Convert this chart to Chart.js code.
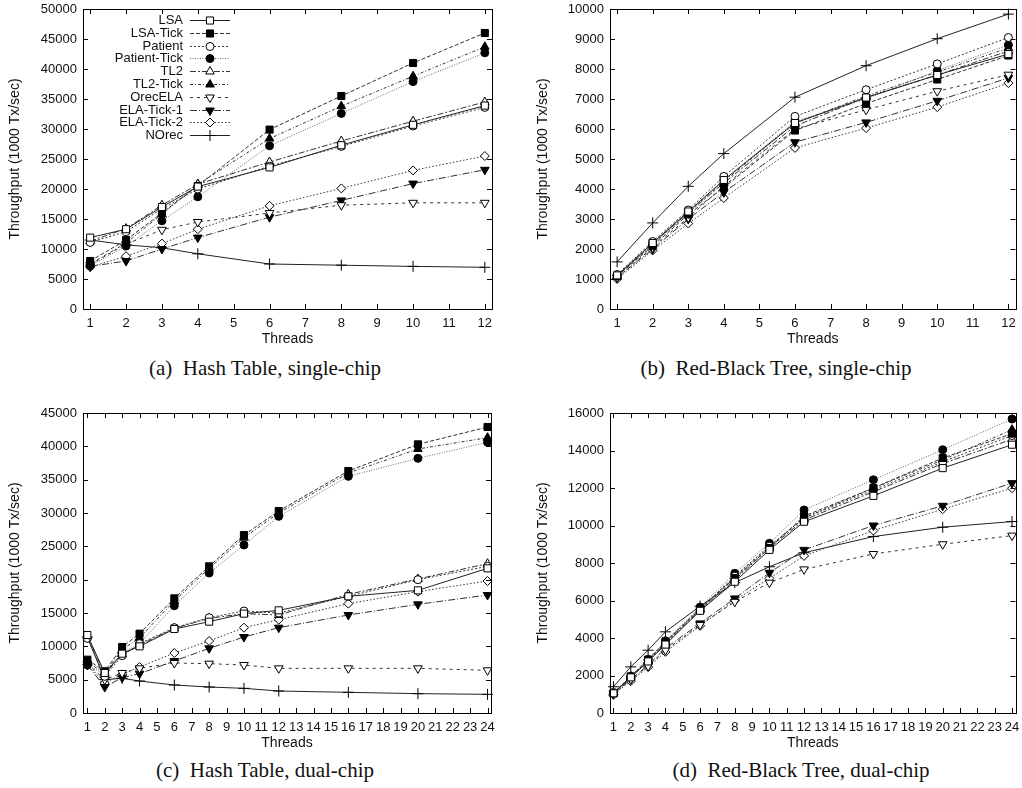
<!DOCTYPE html>
<html><head><meta charset="utf-8">
<script src="https://cdn.jsdelivr.net/npm/chart.js@4/dist/chart.umd.min.js"></script>
<style>
html,body{margin:0;padding:0;background:#fff;width:1022px;height:788px;overflow:hidden;position:relative}
canvas{position:absolute}
.cap{position:absolute;font-family:"Liberation Serif","Times New Roman",serif;font-size:21px;white-space:pre;transform:translateX(-50%);color:#111;line-height:24px}
</style></head><body>
<canvas id="ca" width="511" height="348" style="left:0px;top:0px"></canvas>
<canvas id="cb" width="511" height="348" style="left:511px;top:0px"></canvas>
<canvas id="cc" width="511" height="348" style="left:0px;top:404px"></canvas>
<canvas id="cd" width="511" height="348" style="left:511px;top:404px"></canvas>
<div class="cap" style="left:265px;top:356px">(a)  Hash Table, single-chip</div>
<div class="cap" style="left:776px;top:356px">(b)  Red-Black Tree, single-chip</div>
<div class="cap" style="left:265px;top:758px">(c)  Hash Table, dual-chip</div>
<div class="cap" style="left:801px;top:758px">(d)  Red-Black Tree, dual-chip</div>
<script>
// ---------- DATA ----------
const seriesNames = ['LSA','LSA-Tick','Patient','Patient-Tick','TL2','TL2-Tick','OrecELA','ELA-Tick-1','ELA-Tick-2','NOrec'];
const threadsSingle = [1,2,3,4,6,8,10,12];
const threadsDual = [1,2,3,4,6,8,10,12,16,20,24];
const xTicksSingle = [1,2,3,4,5,6,7,8,9,10,11,12];
const xTicksDual = [1,2,3,4,5,6,7,8,9,10,11,12,13,14,15,16,17,18,19,20,21,22,23,24];
const yTicksA = [0,5000,10000,15000,20000,25000,30000,35000,40000,45000,50000];
const yTicksB = [0,1000,2000,3000,4000,5000,6000,7000,8000,9000,10000];
const yTicksC = [0,5000,10000,15000,20000,25000,30000,35000,40000,45000];
const yTicksD = [0,2000,4000,6000,8000,10000,12000,14000,16000];

// (a) Hash Table, single-chip  (order = seriesNames)
const hashSingle = [
  [11900,13300,17000,20400,23600,27300,30700,33900],
  [8000,11500,16000,20500,29900,35500,41000,46000],
  [11100,12900,16700,20000,23800,27100,30500,33600],
  [7200,10500,14700,18700,27200,32600,37900,42700],
  [11300,13400,17300,20800,24500,28000,31300,34500],
  [7500,11000,15800,20800,28400,33800,38800,43700],
  [7400,10800,13200,14500,16000,17300,17700,17700],
  [7100,8000,10000,11900,15300,18100,20900,23200],
  [7000,8800,10900,13300,17200,20100,23100,25500],
  [11500,10700,10200,9200,7500,7300,7100,6950]
];
// (b) Red-Black Tree, single-chip
const rbSingle = [
  [1120,2200,3250,4300,6200,7050,7800,8500],
  [1100,2100,3150,4050,5950,6850,7650,8450],
  [1150,2250,3300,4420,6420,7310,8170,9050],
  [1100,2150,3200,4300,6250,7000,7950,8800],
  [1100,2200,3200,4200,6100,7050,7800,8600],
  [1120,2150,3250,4250,6200,7100,7900,8700],
  [1050,2050,3050,4100,6000,6640,7260,7810],
  [1050,2000,3000,3890,5560,6220,6940,7700],
  [1000,1950,2850,3700,5370,6030,6730,7530],
  [1570,2870,4090,5180,7060,8110,9010,9830]
];
// (c) Hash Table, dual-chip
const hashDual = [
  [11700,6000,8900,10000,12600,13700,14900,15400,17500,18400,21700],
  [8000,6260,9900,11900,17200,22000,26700,30300,36300,40300,42900],
  [11200,5500,8600,10400,12800,14300,15300,15000,17500,20000,22000],
  [7200,5800,9000,10400,16100,21000,25200,29500,35500,38200,40600],
  [11500,5800,8800,10200,12700,14200,14900,14700,17800,20100,22400],
  [7600,6000,9500,11300,16800,21700,26300,30000,36000,39600,41300],
  [7400,5000,6000,6700,7500,7400,7200,6700,6700,6700,6400],
  [7200,3900,5300,5900,7800,9700,11400,12800,14700,16300,17700],
  [7300,4500,5800,6900,9000,10800,12800,14000,16400,18200,19800],
  [11400,5000,5200,4800,4200,3900,3700,3300,3100,2900,2800]
];
// (d) Red-Black Tree, dual-chip
const rbDual = [
  [1050,1900,2750,3650,5450,7000,8700,10200,11580,13060,14310],
  [1050,1950,2850,3800,5550,7200,8800,10500,12000,13600,14900],
  [1100,1950,2800,3750,5550,7300,8900,10400,11900,13400,14800],
  [1050,1950,2850,3850,5650,7450,9050,10830,12440,14040,15680],
  [1050,1900,2750,3700,5500,7100,8800,10300,11800,13300,14600],
  [1050,1950,2800,3800,5550,7250,8900,10400,12000,13500,15110],
  [1000,1800,2500,3350,4700,5930,6950,7660,8480,9000,9460],
  [1000,1800,2550,3450,4780,6110,7480,8700,10000,11050,12260],
  [1000,1700,2450,3260,4650,6000,7180,8380,9730,10870,11990],
  [1400,2460,3350,4330,5700,6950,7800,8550,9410,9910,10210]
];

// ---------- STYLES ----------
const styles = [
  {ps:'rect', rot:0, r:5, fill:false, dash:[], line:'#222'},
  {ps:'rect', rot:0, r:5, fill:true, dash:[4,2], line:'#333'},
  {ps:'circle', rot:0, r:4, fill:false, dash:[2,2], line:'#333'},
  {ps:'circle', rot:0, r:4, fill:true, dash:[1,1.5], line:'#666'},
  {ps:'triangle', rot:0, r:5, fill:false, dash:[6,2,2,2], line:'#333'},
  {ps:'triangle', rot:0, r:5, fill:true, dash:[3,2,1,2], line:'#333'},
  {ps:'triangle', rot:180, r:5, fill:false, dash:[3,4], line:'#333'},
  {ps:'triangle', rot:180, r:5, fill:true, dash:[7,2,1,2], line:'#333'},
  {ps:'rectRot', rot:0, r:4.5, fill:false, dash:[1.5,2], line:'#333'},
  {ps:'cross', rot:0, r:5.5, fill:false, dash:[], line:'#222'}
];
const FONT = '"Liberation Sans", Arial, Helvetica, sans-serif';

const framePlugin = {
  id:'frame',
  afterDraw(chart){
    const {ctx, chartArea:a, scales:{x,y}} = chart;
    ctx.save();
    ctx.strokeStyle='#000'; ctx.lineWidth=1; ctx.setLineDash([]);
    const L=5;
    ctx.beginPath();
    x.ticks.forEach(t=>{const p=Math.round(x.getPixelForValue(t.value))+0.5;
      ctx.moveTo(p,a.bottom); ctx.lineTo(p,a.bottom-L); ctx.moveTo(p,a.top); ctx.lineTo(p,a.top+L);});
    y.ticks.forEach(t=>{const p=Math.round(y.getPixelForValue(t.value))+0.5;
      ctx.moveTo(a.left,p); ctx.lineTo(a.left+L,p); ctx.moveTo(a.right,p); ctx.lineTo(a.right-L,p);});
    ctx.stroke();
    ctx.strokeRect(Math.round(a.left)+0.5, Math.round(a.top)+0.5, Math.round(a.right-a.left), Math.round(a.bottom-a.top));
    ctx.restore();
  }
};

const legendPlugin = {
  id:'gpLegend',
  afterDatasetsDraw(chart, args, opts){
    if(!opts || !opts.show) return;
    const ctx = chart.ctx;
    ctx.save();
    chart.data.datasets.forEach((ds,i)=>{
      const y = Math.round(20 + i*12.8) + 0.5;
      ctx.fillStyle='#111'; ctx.textAlign='right'; ctx.textBaseline='middle';
      ctx.font='13px '+FONT;
      ctx.fillText(ds.label, 183, y);
      ctx.strokeStyle=ds.borderColor; ctx.lineWidth=1; ctx.setLineDash(ds.borderDash);
      ctx.beginPath(); ctx.moveTo(190,y); ctx.lineTo(230,y); ctx.stroke();
      ctx.setLineDash([]);
      ctx.fillStyle=ds.pointBackgroundColor; ctx.strokeStyle='#000';
      Chart.helpers.drawPoint(ctx, {pointStyle:ds.pointStyle, rotation:ds.pointRotation, radius:ds.pointRadius, borderWidth:1}, 210, y);
    });
    ctx.restore();
  }
};

function makeChart(id, threads, values, xTicks, yTicks, xMin, xMax, yMax, yAxisWidth, yTitlePad, padTop, padRight, showLegend){
  const datasets = seriesNames.map((name,i)=>{
    const st = styles[i];
    return {
      label:name,
      data: threads.map((t,j)=>({x:t, y:values[i][j]})),
      borderColor: st.line, borderWidth:1, borderDash: st.dash,
      pointStyle: st.ps, pointRotation: st.rot, pointRadius: st.r,
      pointBackgroundColor: st.fill ? '#000' : '#fff', pointBorderColor:'#000', pointBorderWidth:1,
      tension:0, fill:false, clip:false
    };
  });
  new Chart(document.getElementById(id), {
    type:'line',
    data:{datasets},
    options:{
      responsive:false, animation:false, devicePixelRatio:1,
      layout:{padding:{top:padTop, right:padRight, left:0, bottom:0}},
      plugins:{legend:{display:false}, tooltip:{enabled:false}, gpLegend:{show:showLegend}},
      scales:{
        x:{type:'linear', min:xMin, max:xMax,
          grid:{display:false, drawTicks:false}, border:{display:false},
          afterBuildTicks:s=>{s.ticks = xTicks.map(v=>({value:v}));},
          afterFit:s=>{s.height=39; s.paddingLeft=0; s.paddingRight=0;},
          ticks:{autoSkip:false, maxRotation:0, minRotation:0, padding:7, color:'#111', font:{family:FONT, size:13}, callback:v=>String(v)},
          title:{display:true, text:'Threads', color:'#111', font:{family:FONT, size:14}, padding:{top:0, bottom:0}}
        },
        y:{type:'linear', min:0, max:yMax,
          grid:{display:false, drawTicks:false}, border:{display:false},
          afterBuildTicks:s=>{s.ticks = yTicks.map(v=>({value:v}));},
          afterFit:s=>{s.width=yAxisWidth; s.paddingTop=0; s.paddingBottom=0;},
          ticks:{padding:6, color:'#111', font:{family:FONT, size:13}, callback:v=>String(v)},
          title:{display:true, text:'Throughput (1000 Tx/sec)', color:'#111', font:{family:FONT, size:14}, padding:{top:yTitlePad, bottom:0}}
        }
      }
    },
    plugins:[framePlugin, legendPlugin]
  });
}

makeChart('ca', threadsSingle, hashSingle, xTicksSingle, yTicksA, 0.8, 12.2, 50000, 83, 7, 9, 19, true);
makeChart('cb', threadsSingle, rbSingle, xTicksSingle, yTicksB, 0.8, 12.2, 10000, 99, 24, 9, 4, false);
makeChart('cc', threadsDual, hashDual, xTicksDual, yTicksC, 0.75, 24.2, 45000, 83, 7, 9, 20, false);
makeChart('cd', threadsDual, rbDual, xTicksDual, yTicksD, 0.8, 24.2, 16000, 99, 24, 9, 4, false);
</script>
</body></html>
